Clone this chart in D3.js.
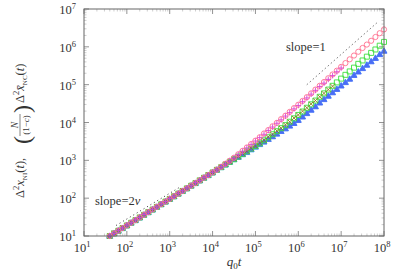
<!DOCTYPE html>
<html>
<head>
<meta charset="utf-8">
<script src="https://cdn.jsdelivr.net/npm/d3@7"></script>
<style>
    body { margin: 0; background: #fff; }
    text { font-family: "Liberation Serif", "DejaVu Serif", serif; fill: #333; }
</style>
</head>
<body>
<script>
// time grid (log10 of q0 t)
var logT = [1.6,1.7,1.8,1.9,2.0,2.1,2.2,2.3,2.4,2.5,2.6,2.7,2.8,2.9,3.0,3.1,3.2,3.3,3.4,3.5,
            3.6,3.7,3.8,3.9,4.0,4.1,4.2,4.3,4.4,4.5,4.6,4.7,4.8,4.9,5.0,5.1,5.2,5.3,5.4,5.5,
            5.6,5.7,5.8,5.9,6.0,6.1,6.2,6.3,6.4,6.5,6.6,6.7,6.8,6.9,7.0,7.1,7.2,7.3,7.4,7.5,
            7.6,7.7,7.8,7.9,8.0];

// log10 of the MSD
var niRed = [1.00,1.07,1.14,1.21,1.28,1.35,1.42,1.49,1.56,1.63,1.70,1.77,1.84,1.91,1.98,2.05,2.12,2.19,2.26,2.33,
             2.40,2.47,2.54,2.61,2.68,2.75,2.83,2.91,2.99,3.07,3.16,3.25,3.34,3.43,3.52,3.61,3.71,3.80,3.90,3.99,
             4.09,4.18,4.28,4.38,4.47,4.57,4.67,4.77,4.87,4.97,5.07,5.17,5.27,5.37,5.47,5.57,5.67,5.77,5.87,5.97,
             6.06,6.16,6.26,6.36,6.46];
var niGreen = [1.00,1.07,1.14,1.21,1.28,1.35,1.42,1.49,1.56,1.63,1.70,1.77,1.84,1.91,1.98,2.05,2.12,2.19,2.26,2.33,
               2.40,2.47,2.54,2.61,2.68,2.75,2.82,2.89,2.96,3.03,3.10,3.17,3.24,3.31,3.38,3.45,3.53,3.61,3.69,3.77,
               3.85,3.93,4.02,4.11,4.20,4.29,4.39,4.48,4.58,4.68,4.77,4.87,4.97,5.06,5.16,5.26,5.35,5.45,5.55,5.64,
               5.74,5.84,5.93,6.03,6.13];
var niBlue = [1.00,1.07,1.14,1.21,1.28,1.35,1.42,1.49,1.56,1.63,1.70,1.77,1.84,1.91,1.98,2.05,2.12,2.19,2.26,2.33,
              2.40,2.47,2.54,2.61,2.68,2.75,2.82,2.89,2.96,3.03,3.09,3.16,3.22,3.29,3.36,3.43,3.49,3.56,3.63,3.70,
              3.77,3.84,3.91,3.98,4.06,4.15,4.24,4.33,4.42,4.52,4.61,4.70,4.79,4.88,4.97,5.06,5.15,5.25,5.34,5.43,
              5.52,5.61,5.70,5.80,5.89];
var ncMagenta = [1.01,1.07,1.15,1.21,1.29,1.35,1.43,1.49,1.57,1.63,1.71,1.77,1.85,1.91,1.99,2.05,2.13,2.19,2.27,2.33,
                 2.41,2.47,2.55,2.61,2.69,2.75,2.83,2.90,2.98,3.06,3.15,3.24,3.33,3.42,3.51,3.60,3.69,3.79,3.88,3.98,
                 4.07,4.17,4.26,4.36,4.45,4.55,4.65,4.75,4.85,4.95,5.04,5.14,5.24,5.34,5.44];
var ncOlive = [1.00,1.08,1.14,1.22,1.28,1.36,1.42,1.50,1.56,1.64,1.70,1.78,1.84,1.92,1.98,2.06,2.12,2.20,2.26,2.34,
               2.40,2.48,2.54,2.62,2.68,2.76,2.82,2.90,2.96,3.04,3.10,3.18,3.24,3.32,3.38,3.46,3.53,3.62,3.69,3.78,
               3.85,3.94,4.02,4.12,4.20,4.30,4.39,4.49,4.58,4.68,4.77,4.87,4.96];
var ncCyan = [1.00,1.06,1.13,1.20,1.27,1.34,1.41,1.48,1.55,1.62,1.69,1.76,1.83,1.90,1.97,2.04,2.11,2.18,2.25,2.32,
              2.39,2.46,2.53,2.60,2.67,2.74,2.81,2.88,2.95,3.02,3.08,3.15,3.21,3.28,3.35,3.42,3.49,3.56,3.63,3.70,
              3.77,3.84,3.92,3.99,4.07,4.16,4.25,4.34,4.43,4.53,4.62,4.71,4.80,4.89,4.98,5.07,5.16,5.26,5.35,5.44,
              5.53,5.62,5.71,5.81,5.90];

// guide lines: [logT, logMSD] end points
var slope2nu = [[1.75, 1.28], [3.25, 2.30]];
var slope1 = [[6.2, 5.0], [7.85, 6.65]];

var xDecades = [1,2,3,4,5,6,7,8];
var yDecades = [1,2,3,4,5,6,7];

var width = 396, height = 276;
var pL = 84, pR = 384, pT = 9, pB = 236;

var svg = d3.select("body").append("svg")
    .attr("width", width)
    .attr("height", height);

var x = d3.scaleLog().domain([1e1, 1e8]).range([pL, pR]);
var y = d3.scaleLog().domain([1e1, 1e7]).range([pB, pT]);

function px(lt) { return x(Math.pow(10, lt)); }
function py(lv) { return y(Math.pow(10, lv)); }

// ticks on all four sides
var ticks = svg.append("g").attr("stroke", "#777").attr("stroke-width", 0.8);
xDecades.forEach(function(d) {
    for (var k = 1; k < 10; k++) {
        if (k > 1 && d == 8) break;
        var xx = x(k * Math.pow(10, d));
        var len = k == 1 ? 5 : 2.5;
        ticks.append("line").attr("x1", xx).attr("x2", xx).attr("y1", pB).attr("y2", pB - len)
            .attr("stroke-opacity", k == 1 ? 1 : 0.45);
        ticks.append("line").attr("x1", xx).attr("x2", xx).attr("y1", pT).attr("y2", pT + len)
            .attr("stroke-opacity", k == 1 ? 1 : 0.45);
    }
});
yDecades.forEach(function(d) {
    for (var k = 1; k < 10; k++) {
        if (k > 1 && d == 7) break;
        var yy = y(k * Math.pow(10, d));
        var len = k == 1 ? 5 : 2.5;
        ticks.append("line").attr("y1", yy).attr("y2", yy).attr("x1", pL).attr("x2", pL + len)
            .attr("stroke-opacity", k == 1 ? 1 : 0.45);
        ticks.append("line").attr("y1", yy).attr("y2", yy).attr("x1", pR).attr("x2", pR - len)
            .attr("stroke-opacity", k == 1 ? 1 : 0.45);
    }
});

// tick labels 10^n
xDecades.forEach(function(d) {
    var t = svg.append("text").attr("x", x(Math.pow(10, d)) - 2).attr("y", pB + 16)
        .attr("text-anchor", "middle").attr("font-size", 12.5);
    t.append("tspan").text("10");
    t.append("tspan").attr("dy", -5).attr("font-size", 8.5).text(d);
});
yDecades.forEach(function(d) {
    var t = svg.append("text").attr("x", pL - 8).attr("y", y(Math.pow(10, d)) + 5)
        .attr("text-anchor", "end").attr("font-size", 12.5);
    t.append("tspan").text("10");
    t.append("tspan").attr("dy", -5).attr("font-size", 8.5).text(d);
});

// guide lines
function guide(pts) {
    svg.append("line")
        .attr("x1", px(pts[0][0])).attr("y1", py(pts[0][1]))
        .attr("x2", px(pts[1][0])).attr("y2", py(pts[1][1]))
        .attr("stroke", "#333").attr("stroke-width", 1)
        .attr("stroke-dasharray", "1,3");
}
guide(slope2nu);
guide(slope1);

svg.append("text").attr("x", 286).attr("y", 51).attr("font-size", 12.5).text("slope=1");
var s2 = svg.append("text").attr("x", 95).attr("y", 205).attr("font-size", 12.5);
s2.append("tspan").text("slope=2");
s2.append("tspan").attr("font-style", "italic").text("ν");

// markers
var shapes = {
    circle: "M2.6,0A2.6,2.6 0 1,1 -2.6,0A2.6,2.6 0 1,1 2.6,0Z",
    square: "M-2.5,-2.5H2.5V2.5H-2.5Z",
    plus: "M-2.8,0H2.8M0,-2.8V2.8",
    times: "M-2.2,-2.2L2.2,2.2M-2.2,2.2L2.2,-2.2",
    tri: "M0,-3L2.9,2.2H-2.9Z"
};

var series = [
    {vals: ncCyan, shape: shapes.tri, color: "#6cc6ff", fill: "none"},
    {vals: niBlue, shape: shapes.tri, color: "#4a6cf5", fill: "#4a6cf5"},
    {vals: niGreen, shape: shapes.square, color: "#3ede3e", fill: "none"},
    {vals: ncOlive, shape: shapes.times, color: "#8a7d1e", fill: "none"},
    {vals: niRed, shape: shapes.circle, color: "#ff6f8e", fill: "none"},
    {vals: ncMagenta, shape: shapes.plus, color: "#dd44d0", fill: "none"}
];

var marks = svg.append("g");
series.forEach(function(s) {
    marks.append("g").selectAll("path")
        .data(s.vals)
        .enter()
        .append("path")
        .attr("d", s.shape)
        .attr("transform", function(v, i) { return "translate(" + px(logT[i]) + "," + py(v) + ")"; })
        .attr("fill", s.fill)
        .attr("stroke", s.color)
        .attr("stroke-width", 0.9);
});

// frame
svg.append("rect")
    .attr("x", pL).attr("y", pT)
    .attr("width", pR - pL).attr("height", pB - pT)
    .attr("fill", "none").attr("stroke", "#666").attr("stroke-width", 1);

// x label
var xl = svg.append("text").attr("x", 234).attr("y", 266).attr("text-anchor", "middle").attr("font-size", 13);
xl.append("tspan").attr("font-style", "italic").text("q");
xl.append("tspan").attr("dy", 3).attr("font-size", 9).text("0");
xl.append("tspan").attr("dy", -3).attr("font-style", "italic").text("t");

// y label
var yl = svg.append("g").attr("transform", "translate(24,130) rotate(-90)");
var a = yl.append("text").attr("x", -68).attr("y", 0).attr("font-size", 12.5);
a.append("tspan").text("Δ");
a.append("tspan").attr("dy", -5).attr("font-size", 8.5).text("2");
a.append("tspan").attr("dy", 5).attr("font-style", "italic").text("x");
a.append("tspan").attr("dy", 2.5).attr("font-size", 7).text("NI");
a.append("tspan").attr("dy", -2.5).text("(");
a.append("tspan").attr("font-style", "italic").text("t");
a.append("tspan").text("),");
yl.append("text").attr("x", -14).attr("y", 6).attr("font-size", 24).text("(");
yl.append("text").attr("x", 5).attr("y", -6.5).attr("font-size", 9.5).attr("text-anchor", "middle")
    .attr("font-style", "italic").text("N");
yl.append("line").attr("x1", -6).attr("x2", 16).attr("y1", -4).attr("y2", -4)
    .attr("stroke", "#333").attr("stroke-width", 0.6);
var den = yl.append("text").attr("x", 5).attr("y", 5).attr("font-size", 9).attr("text-anchor", "middle");
den.append("tspan").text("(1−");
den.append("tspan").attr("font-style", "italic").text("c");
den.append("tspan").text(")");
yl.append("text").attr("x", 17).attr("y", 6).attr("font-size", 24).text(")");
var b = yl.append("text").attr("x", 27).attr("y", 0).attr("font-size", 12.5);
b.append("tspan").text("Δ");
b.append("tspan").attr("dy", -5).attr("font-size", 8.5).text("2");
b.append("tspan").attr("dy", 5).attr("font-style", "italic").text("x\u0304");
b.append("tspan").attr("dy", 2.5).attr("font-size", 7).text("NC");
b.append("tspan").attr("dy", -2.5).text("(");
b.append("tspan").attr("font-style", "italic").text("t");
b.append("tspan").text(")");
</script>
</body>
</html>
